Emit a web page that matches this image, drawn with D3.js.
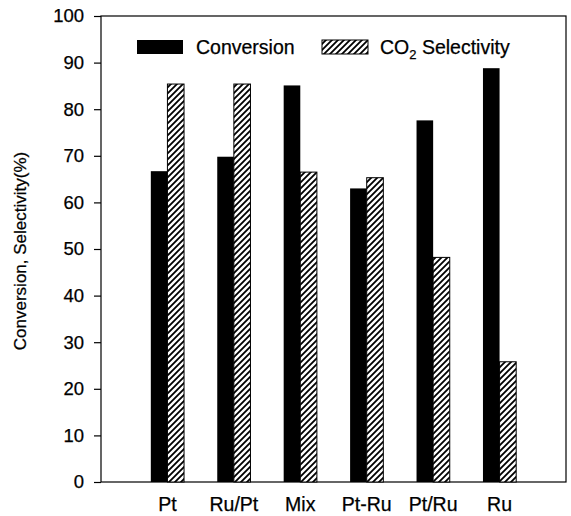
<!DOCTYPE html>
<html>
<head>
<meta charset="utf-8">
<script src="https://cdn.jsdelivr.net/npm/d3@7"></script>
<style>
  body { margin: 0; background: #fff; }
  text { font-family: "Liberation Sans", Arial, sans-serif; fill: #000; stroke: #000; stroke-width: 0.25px; }
</style>
</head>
<body>
<div id="chart"></div>
<script>
// Dữ liệu
const categories = ["Pt", "Ru/Pt", "Mix", "Pt-Ru", "Pt/Ru", "Ru"];
const conversion = [66.7, 69.8, 85.1, 63.0, 77.6, 88.8];
const selectivity = [85.4, 85.4, 66.5, 65.3, 48.2, 25.8];
const yTicks = [0, 10, 20, 30, 40, 50, 60, 70, 80, 90, 100];

const W = 571, H = 516;
const margin = { top: 16, right: 5, bottom: 34, left: 101 };
const width = W - margin.left - margin.right;
const height = H - margin.top - margin.bottom;

const svg = d3.select("#chart").append("svg")
  .attr("width", W).attr("height", H);

// Mẫu gạch chéo
const defs = svg.append("defs");
const pat = defs.append("pattern")
  .attr("id", "hatch")
  .attr("patternUnits", "userSpaceOnUse")
  .attr("width", 6).attr("height", 6);
pat.append("rect").attr("width", 6).attr("height", 6).attr("fill", "#fff");
pat.append("path")
  .attr("d", "M0,6 L6,0 M-1,1 L1,-1 M5,7 L7,5")
  .attr("stroke", "#000").attr("stroke-width", 1.8);

const g = svg.append("g").attr("transform", `translate(${margin.left},${margin.top})`);

// Trục x: vị trí 0..7, nhóm ở 1..6
const x = d3.scaleLinear().domain([0, categories.length + 1]).range([0, width]);
const step = x(1) - x(0);
const barW = step * 0.25;

const y = d3.scaleLinear().domain([0, 100]).range([height, 0]);

// Khung
g.append("rect")
  .attr("width", width).attr("height", height)
  .attr("fill", "none").attr("stroke", "#000").attr("stroke-width", 1.2);

// Trục y
const yAxis = g.append("g")
  .call(d3.axisLeft(y).tickValues(yTicks).tickSize(7).tickPadding(10));
yAxis.select(".domain").remove();
yAxis.selectAll("line").attr("stroke", "#000").attr("stroke-width", 1.2);
yAxis.selectAll("text").style("font-size", "18.5px")
  .style("font-family", '"Liberation Sans", Arial, sans-serif');

// Cột
g.selectAll(".conv")
  .data(conversion)
  .enter().append("rect")
  .attr("class", "conv")
  .attr("x", (d, i) => x(i + 1) - barW)
  .attr("y", d => y(d))
  .attr("width", barW)
  .attr("height", d => height - y(d))
  .attr("fill", "#000");

g.selectAll(".sel")
  .data(selectivity)
  .enter().append("rect")
  .attr("class", "sel")
  .attr("x", (d, i) => x(i + 1))
  .attr("y", d => y(d))
  .attr("width", barW)
  .attr("height", d => height - y(d))
  .attr("fill", "url(#hatch)")
  .attr("stroke", "#000").attr("stroke-width", 1);

// Nhãn danh mục
g.selectAll(".cat")
  .data(categories)
  .enter().append("text")
  .attr("class", "cat")
  .attr("x", (d, i) => x(i + 1))
  .attr("y", height + 29)
  .attr("text-anchor", "middle")
  .style("font-size", "19.5px")
  .text(d => d);

// Tiêu đề trục y
g.append("text")
  .attr("transform", `translate(${-75},${height / 2 + 2}) rotate(-90)`)
  .attr("text-anchor", "middle")
  .style("font-size", "17px")
  .text("Conversion, Selectivity(%)");

// Chú giải
const leg = svg.append("g");
leg.append("rect").attr("x", 137).attr("y", 40).attr("width", 46).attr("height", 14).attr("fill", "#000");
leg.append("text").attr("x", 196).attr("y", 54).style("font-size", "19.5px").text("Conversion");
leg.append("rect").attr("x", 322).attr("y", 40).attr("width", 46).attr("height", 14)
  .attr("fill", "url(#hatch)").attr("stroke", "#000").attr("stroke-width", 1);
const t2 = leg.append("text").attr("x", 380).attr("y", 54).style("font-size", "19.5px");
t2.append("tspan").text("CO");
t2.append("tspan").attr("dy", 5).style("font-size", "13px").text("2");
t2.append("tspan").attr("dy", -5).text(" Selectivity");
</script>
</body>
</html>
